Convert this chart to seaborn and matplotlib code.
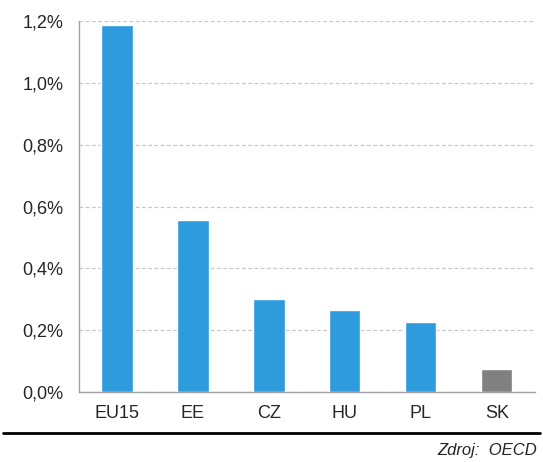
import matplotlib
matplotlib.use("Agg")
import matplotlib.pyplot as plt
import seaborn as sns
import pandas as pd
from matplotlib.lines import Line2D
from matplotlib.ticker import FuncFormatter, FixedLocator

countries = ["EU15", "EE", "CZ", "HU", "PL", "SK"]
values = [1.187, 0.555, 0.302, 0.264, 0.225, 0.073]
colors = ["#2E9BDD", "#2E9BDD", "#2E9BDD", "#2E9BDD", "#2E9BDD", "#808080"]

df = pd.DataFrame({"country": countries, "value": values})

sns.set_style("white")
plt.rcParams["font.family"] = ["Liberation Sans Narrow", "Liberation Sans", "DejaVu Sans"]

fig = plt.figure(figsize=(5.43, 4.62), dpi=100)
ax = fig.add_axes([0.1455, 0.1515, 0.8395, 0.803])

sns.barplot(data=df, x="country", y="value", hue="country", palette=colors,
            legend=False, width=0.41, saturation=1, ax=ax, zorder=3)

ax.set_ylim(0, 1.2)
ax.set_xlim(-0.5, 5.5)
ax.set_yticks([0, 0.2, 0.4, 0.6, 0.8, 1.0, 1.2])
ax.yaxis.set_major_formatter(FuncFormatter(lambda v, p: f"{v:.1f}%".replace(".", ",")))
ax.yaxis.grid(True, color="#c8c8c8", linestyle=(0, (3, 2)), linewidth=0.9, zorder=0)

# ticks between categories on the x axis
ax.xaxis.set_minor_locator(FixedLocator([i - 0.5 for i in range(len(countries) + 1)]))
ax.tick_params(axis="x", which="major", length=0, pad=9, labelsize=13)
ax.tick_params(axis="x", which="minor", length=6, color="#a0a0a0", width=1)
ax.tick_params(axis="y", length=6, color="#a0a0a0", width=1, labelsize=13, pad=5)

for s in ["top", "right"]:
    ax.spines[s].set_visible(False)
for s in ["left", "bottom"]:
    ax.spines[s].set_color("#a0a0a0")
    ax.spines[s].set_linewidth(1)

ax.set_xlabel("")
ax.set_ylabel("")

fig.add_artist(Line2D([0.005, 0.995], [0.063, 0.063], color="black", linewidth=2,
                      transform=fig.transFigure))
fig.text(0.99, 0.025, "Zdroj:  OECD", ha="right", va="center", style="italic", fontsize=12)

fig.savefig("out.png", dpi=100)
